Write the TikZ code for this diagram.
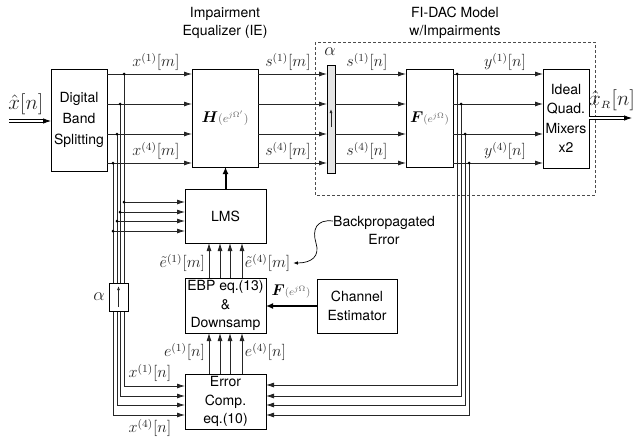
\RequirePackage{fix-cm}
\documentclass[tikz,border=0pt]{standalone}
\usepackage{amsmath}
\usepackage{bm}
\usepackage{fontspec}
\setsansfont{TeX Gyre Heros}
\usetikzlibrary{arrows.meta,calc}
\begin{document}
\begin{tikzpicture}[x=1pt,y=-1pt,
  box/.style={draw=black, line width=0.9pt, inner sep=0pt, outer sep=0pt, align=center, font=\sffamily\fontsize{14}{18.5}\selectfont},
  sig/.style={draw=black!85, line width=0.8pt},
  arr/.style={sig, -{Latex[length=8pt,width=5pt]}},
  thick arr/.style={draw=black, -{Latex[length=7pt,width=6pt]}},
  dot/.style={circle, fill=black, inner sep=0pt, minimum size=3pt},
  lab/.style={font=\fontsize{12}{14}\selectfont, scale=1.35, text=black!85, inner sep=0.5pt},
  biglab/.style={font=\fontsize{12}{14}\selectfont, scale=1.75, text=black!85, inner sep=0.5pt},
  alab/.style={font=\fontsize{12}{14}\selectfont, scale=1.5, text=black!85, inner sep=0.5pt},
  hdr/.style={font=\sffamily\fontsize{14}{18}\selectfont, align=center, inner sep=0pt},
  dblline/.style={double, draw=black, line width=0.9pt, double distance=2pt, shorten >=7pt},
]
\useasboundingbox (0,0) rectangle (643,439);

% dashed model frame
\draw[black!70, line width=0.8pt, dash pattern=on 3pt off 2pt] (315,42) rectangle (595,195);

% boxes
\node[box, minimum width=56, minimum height=102, font=\sffamily\fontsize{14}{21}\selectfont] (dbs) at (79,120) {Digital\\Band\\Splitting};
\node[box, minimum width=66, minimum height=98] (H) at (225,118) {\scalebox{1.3}{{\fontsize{12}{12}\selectfont$\bm{H}$}{\color{black!60}\fontsize{9}{9}\selectfont$(e^{j\Omega'})$}}};
\node[box, minimum width=81, minimum height=54] (lms) at (225.5,216) {LMS};
\node[box, minimum width=81, minimum height=55] (ebp) at (225.5,305.5) {EBP eq.(13)\\\&\\Downsamp};
\node[box, minimum width=81, minimum height=55] (err) at (225.5,401.5) {Error\\Comp.\\eq.(10)};
\node[box, minimum width=80, minimum height=54] (ch) at (357,306) {Channel\\Estimator};
\node[box, minimum width=8, minimum height=108, fill=black!10] (up1) at (331,119) {};
\node[box, minimum width=47, minimum height=98] (F) at (429.5,118) {\scalebox{1.3}{{\fontsize{12}{12}\selectfont$\bm{F}$}{\color{black!60}\fontsize{8}{8}\selectfont$(e^{j\Omega})$}}};
\node[box, minimum width=46, minimum height=99, font=\sffamily\fontsize{14}{19.5}\selectfont] (iqm) at (566,118.5) {Ideal\\Quad.\\Mixers\\x2};

% left signal paths
\foreach \y/\t/\l/\e in {74/124/202/386, 104/120/212/396, 134/117/221/405, 163/113/231/415}{
  \draw[arr] (dbs.east |- 0,\y) -- (H.west |- 0,\y);
  \draw[arr] (\t,\y) -- (\t,\e) -- (err.west |- 0,\e);
  \draw[arr] (\t,\l) -- (lms.west |- 0,\l);
  \node[dot] at (\t,\y) {};
  \node[dot] at (\t,\l) {};
  \draw[arr] (H.east |- 0,\y) -- (up1.west |- 0,\y);
  \draw[arr] (up1.east |- 0,\y) -- (F.west |- 0,\y);
  \draw[arr] (F.east |- 0,\y) -- (iqm.west |- 0,\y);
}
% right feedback paths
\foreach \y/\r/\e in {74/457/385, 104/461/396, 134/465/405, 163/469/415}{
  \draw[arr] (\r,\y) -- (\r,\e) -- (err.east |- 0,\e);
  \node[dot] at (\r,\y) {};
}
% error vectors
\foreach \x in {209,220,230,242}{
  \draw[arr] (ebp.north -| \x,0) -- (lms.south -| \x,0);
  \draw[arr] (err.north -| \x,0) -- (ebp.south -| \x,0);
}
% thick arrows
\draw[thick arr, line width=2pt] (lms.north) -- (lms.north |- H.south);
\draw[thick arr, line width=2.5pt] (ch.west) -- (ebp.east |- ch.west);

% lower upsampler
\node[box, minimum width=19, minimum height=28, fill=white] (up2) at (118.5,297) {};
\draw[sig, -{Latex[length=4pt,width=3pt]}] (118.5,307) -- (118.5,286);
\draw[sig, -{Latex[length=4pt,width=3pt]}] (331,127) -- (331,109);
\node[alab] at (99,297) {$\alpha$};
\node[alab] at (330,52) {$\alpha$};

% input / output
\coordinate (xin) at (9,121);
\draw[dblline] (xin) -- (dbs.west |- xin);
\draw[line width=0.8pt, -{Latex[length=8pt,width=5.5pt]}] ($(dbs.west |- xin)+(-8,0)$) -- (dbs.west |- xin);
\coordinate (xout) at (632,118);
\draw[dblline] (iqm.east |- xout) -- (xout);
\draw[line width=0.8pt, -{Latex[length=8pt,width=5.5pt]}] ($(xout)+(-8,0)$) -- (xout);
\node[biglab] at (26,104) {$\hat{x}[n]$};
\node[biglab] at (612,100) {$\hat{x}_{\scriptscriptstyle R}[n]$};

% headers
\node[hdr] at (225,23) {Impairment\\Equalizer (IE)};
\node[hdr] at (455,23) {FI-DAC Model\\w/Impairments};

% signal labels
\node[lab] at (156,62) {$x^{(1)}[m]$};
\node[lab] at (156,151) {$x^{(4)}[m]$};
\node[lab] at (288,62) {$s^{(1)}[m]$};
\node[lab] at (288,151) {$s^{(4)}[m]$};
\node[lab] at (367,62) {$s^{(1)}[n]$};
\node[lab] at (367,151) {$s^{(4)}[n]$};
\node[lab] at (505,62) {$y^{(1)}[n]$};
\node[lab] at (505,151) {$y^{(4)}[n]$};
\node[lab, anchor=east] at (206,263) {$\tilde{e}^{(1)}[m]$};
\node[lab, anchor=west] (e4m) at (244,263) {$\tilde{e}^{(4)}[m]$};
\node[lab, anchor=east] at (206,352) {$e^{(1)}[n]$};
\node[lab, anchor=west] at (244,352) {$e^{(4)}[n]$};
\node[lab] at (150,373) {$x^{(1)}[n]$};
\node[lab] at (150,428) {$x^{(4)}[n]$};
\node[inner sep=0pt] at (291,291) {\scalebox{1.3}{{\fontsize{12}{12}\selectfont$\bm{F}$}{\color{black!60}\fontsize{8}{8}\selectfont$(e^{j\Omega})$}}};

% backpropagated error annotation
\node[hdr] (bp) at (384,230) {Backpropagated\\Error};
\draw[black, line width=0.7pt, -{Latex[length=4.5pt,width=3.5pt]}] ([yshift=9pt]bp.west) .. controls (316,219) and (312,230) .. (316,243) .. controls (320,256) and (312,263) .. ([xshift=2pt]e4m.east);
\end{tikzpicture}
\end{document}
